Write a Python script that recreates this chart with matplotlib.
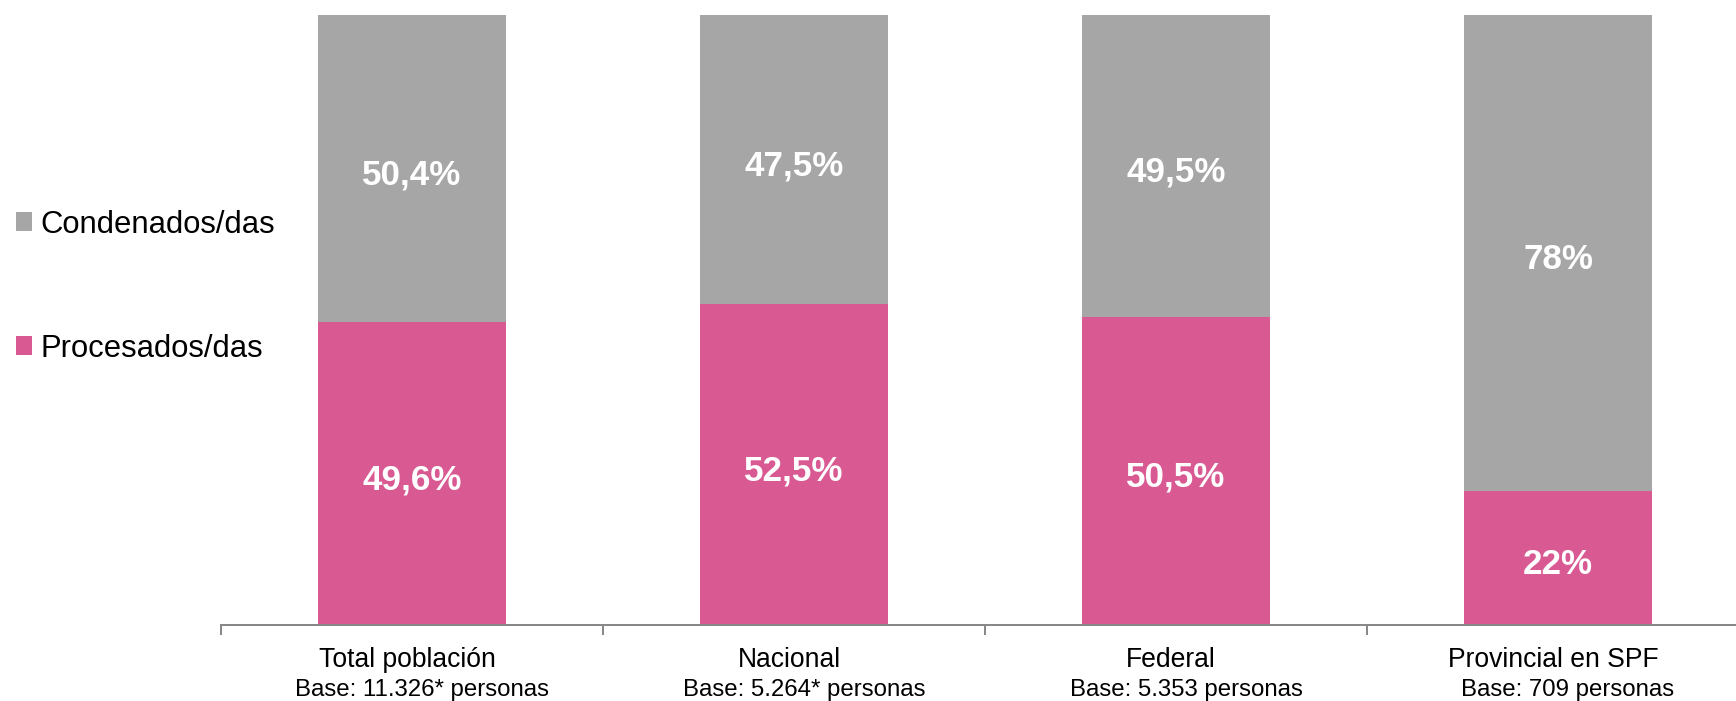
import matplotlib
matplotlib.use("Agg")
import matplotlib.pyplot as plt
import numpy as np

# data
categories = ["Total población", "Nacional", "Federal", "Provincial en SPF"]
bases = ["Base: 11.326* personas", "Base: 5.264* personas",
         "Base: 5.353 personas", "Base: 709 personas"]
procesados = [49.6, 52.5, 50.5, 22]
condenados = [50.4, 47.5, 49.5, 78]

gray = "#A6A6A6"
pink = "#D95A92"
PX = 0.72  # pixels -> points at dpi 100

plt.rcParams['font.family'] = ['Liberation Sans', 'DejaVu Sans']

fig = plt.figure(figsize=(17.36, 7.01), dpi=100)
ax = fig.add_axes([221/1736, 76/701, 1528/1736, 610.5/701])

x = np.arange(len(categories))
proc = np.array(procesados) / 100
cond = np.array(condenados) / 100

b1 = ax.bar(x, proc, width=0.492, color=pink, label="Procesados/das")
b2 = ax.bar(x, cond, width=0.492, bottom=proc, color=gray, label="Condenados/das")

def fmt(v):
    if float(v).is_integer():
        return "%d%%" % v
    return ("%.1f%%" % v).replace(".", ",")

for i in range(len(x)):
    # percentage labels, a bit below the middle of each segment
    ax.annotate(fmt(procesados[i]), xy=(x[i], proc[i] / 2), xytext=(0, -6.5*PX),
                textcoords="offset points", ha="center", va="center",
                color="white", fontsize=35*PX, fontweight="bold")
    ax.annotate(fmt(condenados[i]), xy=(x[i], proc[i] + cond[i] / 2), xytext=(0, -6.5*PX),
                textcoords="offset points", ha="center", va="center",
                color="white", fontsize=35*PX, fontweight="bold")
    # category name + base line under the axis
    ax.annotate(categories[i], xy=(x[i], 0), xytext=(-5*PX, -42*PX),
                textcoords="offset points", ha="center", va="baseline",
                fontsize=26.5*PX, color="black", annotation_clip=False)
    ax.annotate(bases[i], xy=(x[i], 0), xytext=(10*PX, -71*PX),
                textcoords="offset points", ha="center", va="baseline",
                fontsize=24*PX, color="black", annotation_clip=False)

ax.set_xlim(-0.5, 3.5)
ax.set_ylim(0, 1)
ax.set_yticks([])
ax.set_xticks(np.arange(-0.5, 4, 1))
ax.set_xticklabels([])
ax.tick_params(axis="x", length=10*PX, width=2*PX, color="#888888", direction="out")
for s in ["top", "right", "left"]:
    ax.spines[s].set_visible(False)
ax.spines["bottom"].set_color("#888888")
ax.spines["bottom"].set_linewidth(2*PX)

leg = ax.legend(handles=[b2, b1], loc="upper left",
                bbox_to_anchor=(16/1736, 1 - 209.5/701), bbox_transform=fig.transFigure,
                frameon=False, fontsize=31*PX, handlelength=0.5, handleheight=0.55,
                handletextpad=0.3, labelspacing=3.04, borderpad=0, borderaxespad=0)

fig.savefig("out.png", dpi=100)
